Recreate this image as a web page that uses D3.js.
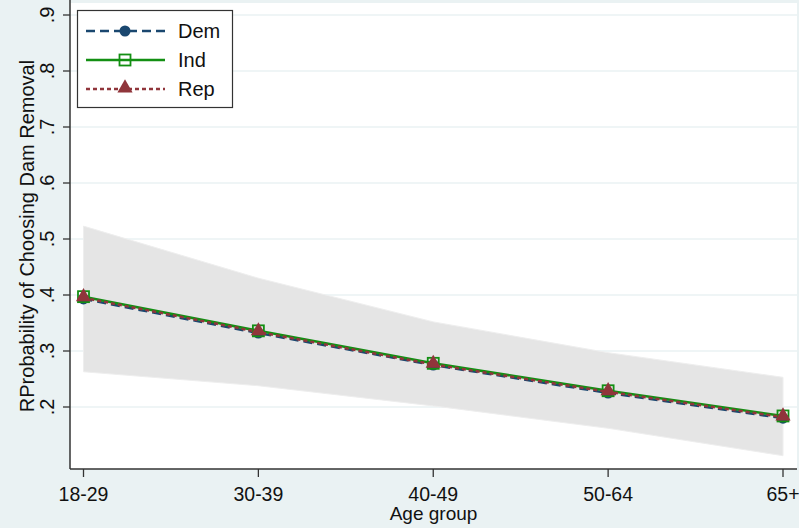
<!DOCTYPE html>
<html>
<head>
<meta charset="utf-8">
<script src="https://cdn.jsdelivr.net/npm/d3@7"></script>
<style>
    body { margin: 0; background: #eaf2f3; }
    text { font-family: "Liberation Sans", Arial, sans-serif; fill: #111; }
</style>
</head>
<body>
<script>
    // chart data
    var ageGroups = ["18-29", "30-39", "40-49", "50-64", "65+"];
    var demValues = [0.393, 0.332, 0.275, 0.225, 0.180];
    var indValues = [0.397, 0.336, 0.278, 0.229, 0.184];
    var repValues = [0.395, 0.334, 0.276, 0.227, 0.182];
    var ciUpper = [0.523, 0.430, 0.352, 0.297, 0.253];
    var ciLower = [0.263, 0.238, 0.202, 0.162, 0.113];
    var yTicks = [0.2, 0.3, 0.4, 0.5, 0.6, 0.7, 0.8, 0.9];
    var yTickLabels = [".2", ".3", ".4", ".5", ".6", ".7", ".8", ".9"];

    var width = 799, height = 528;
    var plot = { left: 70, right: 797, top: 3, bottom: 469 };

    var svg = d3.select("body")
        .append("svg")
        .attr("width", width)
        .attr("height", height);

    svg.append("rect")
        .attr("width", width)
        .attr("height", height)
        .attr("fill", "#eaf2f3");

    svg.append("rect")
        .attr("x", plot.left)
        .attr("y", plot.top)
        .attr("width", plot.right - plot.left)
        .attr("height", plot.bottom - plot.top)
        .attr("fill", "#ffffff");

    var x = d3.scalePoint()
        .domain(ageGroups)
        .range([83.5, 783]);

    var y = d3.scaleLinear()
        .domain([0.4 - 174 / 560, 0.4 + 292 / 560])
        .range([plot.bottom, plot.top]);

    // gridlines
    svg.selectAll(".grid")
        .data(yTicks)
        .enter()
        .append("line")
        .attr("class", "grid")
        .attr("x1", plot.left)
        .attr("x2", plot.right)
        .attr("y1", function(d){ return y(d); })
        .attr("y2", function(d){ return y(d); })
        .attr("stroke", "#eaf2f3")
        .attr("stroke-width", 1.5);

    // confidence band
    var area = d3.area()
        .x(function(d, i){ return x(ageGroups[i]); })
        .y0(function(d, i){ return y(ciLower[i]); })
        .y1(function(d){ return y(d); });

    svg.append("path")
        .datum(ciUpper)
        .attr("d", area)
        .attr("fill", "#e5e5e5")
        .attr("stroke", "#eeeeee")
        .attr("stroke-width", 1);

    var series = [
        { name: "Dem", values: demValues, color: "#1a476f", dash: "9,5", marker: "circle" },
        { name: "Ind", values: indValues, color: "#138f13", dash: null, marker: "square" },
        { name: "Rep", values: repValues, color: "#90353b", dash: "4,3", marker: "triangle" }
    ];

    var line = d3.line()
        .x(function(d, i){ return x(ageGroups[i]); })
        .y(function(d){ return y(d); });

    function drawMarker(g, type, color, cx, cy){
        if (type === "circle"){
            g.append("circle")
                .attr("cx", cx).attr("cy", cy).attr("r", 5.5)
                .attr("fill", color);
        } else if (type === "square"){
            g.append("rect")
                .attr("x", cx - 5.5).attr("y", cy - 5.5)
                .attr("width", 11).attr("height", 11)
                .attr("fill", "none")
                .attr("stroke", color)
                .attr("stroke-width", 1.8);
        } else {
            g.append("path")
                .attr("d", d3.symbol().type(d3.symbolTriangle).size(100)())
                .attr("transform", "translate(" + cx + "," + (cy - 1) + ")")
                .attr("fill", color);
        }
    }

    series.forEach(function(s){
        svg.append("path")
            .datum(s.values)
            .attr("d", line)
            .attr("fill", "none")
            .attr("stroke", s.color)
            .attr("stroke-width", 2.5)
            .attr("stroke-dasharray", s.dash);
        var g = svg.append("g");
        s.values.forEach(function(v, i){
            drawMarker(g, s.marker, s.color, x(ageGroups[i]), y(v));
        });
    });

    // axes
    svg.append("line")
        .attr("x1", plot.left).attr("x2", plot.left)
        .attr("y1", 0).attr("y2", plot.bottom)
        .attr("stroke", "#333").attr("stroke-width", 1.5);
    svg.append("line")
        .attr("x1", plot.left).attr("x2", plot.right)
        .attr("y1", plot.bottom).attr("y2", plot.bottom)
        .attr("stroke", "#333").attr("stroke-width", 1.5);

    // y ticks
    svg.selectAll(".ytick")
        .data(yTicks)
        .enter()
        .append("line")
        .attr("x1", 63).attr("x2", plot.left)
        .attr("y1", function(d){ return y(d); })
        .attr("y2", function(d){ return y(d); })
        .attr("stroke", "#333").attr("stroke-width", 1.3);

    svg.selectAll(".ylabel")
        .data(yTicks)
        .enter()
        .append("text")
        .attr("text-anchor", "middle")
        .attr("font-size", 20)
        .attr("transform", function(d){ return "translate(54," + y(d) + ") rotate(-90)"; })
        .text(function(d, i){ return yTickLabels[i]; });

    // x ticks
    svg.selectAll(".xtick")
        .data(ageGroups)
        .enter()
        .append("line")
        .attr("x1", function(d){ return x(d); })
        .attr("x2", function(d){ return x(d); })
        .attr("y1", plot.bottom).attr("y2", 477)
        .attr("stroke", "#333").attr("stroke-width", 1.3);

    svg.selectAll(".xlabel")
        .data(ageGroups)
        .enter()
        .append("text")
        .attr("text-anchor", "middle")
        .attr("font-size", 19.5)
        .attr("x", function(d){ return x(d); })
        .attr("y", 501)
        .text(function(d){ return d; });

    svg.append("text")
        .attr("text-anchor", "middle")
        .attr("font-size", 19)
        .attr("x", (plot.left + plot.right) / 2)
        .attr("y", 520)
        .text("Age group");

    svg.append("text")
        .attr("text-anchor", "middle")
        .attr("font-size", 20)
        .attr("transform", "translate(34,236) rotate(-90)")
        .text("RProbability of Choosing Dam Removal");

    // legend
    var legend = svg.append("g");
    legend.append("rect")
        .attr("x", 77.5).attr("y", 10.5)
        .attr("width", 155).attr("height", 97)
        .attr("fill", "#fff")
        .attr("stroke", "#333").attr("stroke-width", 1.2);

    series.forEach(function(s, i){
        var ly = 31 + i * 29;
        legend.append("line")
            .attr("x1", 86).attr("x2", 165)
            .attr("y1", ly).attr("y2", ly)
            .attr("stroke", s.color)
            .attr("stroke-width", 2.5)
            .attr("stroke-dasharray", s.dash);
        drawMarker(legend, s.marker, s.color, 125, ly);
        legend.append("text")
            .attr("x", 178).attr("y", ly + 7)
            .attr("font-size", 20)
            .text(s.name);
    });
</script>
</body>
</html>
